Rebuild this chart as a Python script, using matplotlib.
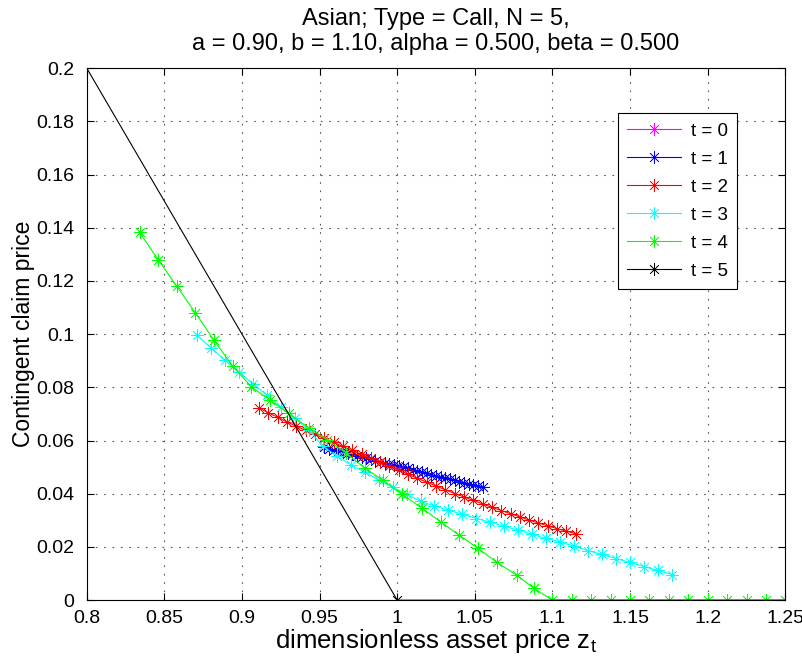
import matplotlib
matplotlib.use("Agg")
from matplotlib import pyplot as plt

plt.rcParams['font.family'] = ['Liberation Sans', 'DejaVu Sans']
plt.rcParams['mathtext.default'] = 'regular'

# t = 0 (single node, hidden under t = 1)
z0 = [1.000]
v0 = [0.0503]

# t = 1
z1 = [0.953, 0.956, 0.959, 0.962, 0.965, 0.968, 0.971, 0.974, 0.977, 0.980,
      0.983, 0.986, 0.989, 0.992, 0.995, 0.998, 1.001, 1.004, 1.007, 1.010,
      1.013, 1.016, 1.019, 1.022, 1.025, 1.028, 1.031, 1.034, 1.037, 1.040,
      1.043, 1.046, 1.049, 1.052, 1.055]
v1 = [0.0574, 0.0570, 0.0565, 0.0561, 0.0556, 0.0552, 0.0548, 0.0543, 0.0539, 0.0534,
      0.0530, 0.0525, 0.0521, 0.0517, 0.0512, 0.0508, 0.0503, 0.0499, 0.0495, 0.0490,
      0.0486, 0.0481, 0.0477, 0.0472, 0.0468, 0.0464, 0.0459, 0.0455, 0.0450, 0.0446,
      0.0442, 0.0437, 0.0433, 0.0428, 0.0424]

# t = 2
z2 = [0.911, 0.917, 0.923, 0.929, 0.935, 0.941, 0.947, 0.953, 0.959, 0.965,
      0.971, 0.977, 0.983, 0.989, 0.995, 1.001, 1.007, 1.013, 1.019, 1.025,
      1.031, 1.037, 1.043, 1.049, 1.055, 1.061, 1.067, 1.073, 1.079, 1.085,
      1.091, 1.097, 1.103, 1.109, 1.115]
v2 = [0.0723, 0.0704, 0.0688, 0.0670, 0.0654, 0.0638, 0.0623, 0.0608, 0.0593, 0.0578,
      0.0563, 0.0548, 0.0533, 0.0518, 0.0503, 0.0488, 0.0473, 0.0458, 0.0444, 0.0429,
      0.0415, 0.0401, 0.0388, 0.0375, 0.0362, 0.0349, 0.0337, 0.0325, 0.0313, 0.0301,
      0.0290, 0.0279, 0.0269, 0.0259, 0.0250]

# t = 3
z3 = [0.871, 0.880, 0.889, 0.898, 0.907, 0.916, 0.925, 0.934, 0.943, 0.952,
      0.961, 0.970, 0.979, 0.988, 0.997, 1.006, 1.015, 1.024, 1.033, 1.042,
      1.051, 1.060, 1.069, 1.078, 1.087, 1.096, 1.105, 1.114, 1.123, 1.132,
      1.141, 1.150, 1.159, 1.168, 1.177]
v3 = [0.0996, 0.0949, 0.0902, 0.0858, 0.0814, 0.0771, 0.0726, 0.0683, 0.0640, 0.0580,
      0.0541, 0.0510, 0.0482, 0.0452, 0.0425, 0.0398, 0.0372, 0.0354, 0.0338, 0.0323,
      0.0307, 0.0293, 0.0278, 0.0263, 0.0247, 0.0232, 0.0219, 0.0203, 0.0186, 0.0172,
      0.0156, 0.0142, 0.0126, 0.0112, 0.0096]

# t = 4
z4 = [0.834, 0.846, 0.858, 0.870, 0.882, 0.894, 0.906, 0.918, 0.930, 0.943,
      0.955, 0.967, 0.979, 0.991, 1.003, 1.016, 1.028, 1.040, 1.052, 1.064,
      1.077, 1.088, 1.100, 1.1125, 1.125, 1.1375, 1.150, 1.1625, 1.175, 1.1875,
      1.200, 1.2125, 1.225, 1.2375, 1.250]
v4 = [0.1383, 0.1280, 0.1180, 0.1080, 0.0977, 0.0880, 0.0802, 0.0752, 0.0702, 0.0648,
      0.0602, 0.0554, 0.0497, 0.0450, 0.0398, 0.0346, 0.0294, 0.0244, 0.0195, 0.0143,
      0.0094, 0.0045, 0.0, 0.0, 0.0, 0.0, 0.0, 0.0, 0.0, 0.0,
      0.0, 0.0, 0.0, 0.0, 0.0]

# t = 5 (payoff)
z5 = [0.6, 1.0, 1.4]
v5 = [0.4, 0.0, 0.0]

series = [(z0, v0, 'magenta', 't = 0'),
          (z1, v1, 'blue', 't = 1'),
          (z2, v2, 'red', 't = 2'),
          (z3, v3, 'cyan', 't = 3'),
          (z4, v4, 'lime', 't = 4'),
          (z5, v5, 'black', 't = 5')]

fig = plt.figure(figsize=(8.03, 6.61), dpi=100)
ax = fig.add_axes([0.108, 0.092, 0.870, 0.805])

star = (8, 2, 0)
for z, v, c, lab in series:
    ax.plot(z, v, color=c, marker=star, markersize=9, linewidth=0.8,
            markeredgewidth=0.5, label=lab)

ax.set_xlim(0.8, 1.25)
ax.set_ylim(0, 0.2)
ax.set_xticks([0.8, 0.85, 0.9, 0.95, 1.0, 1.05, 1.1, 1.15, 1.2, 1.25])
ax.set_xticklabels(['0.8', '0.85', '0.9', '0.95', '1', '1.05', '1.1', '1.15', '1.2', '1.25'])
ax.set_yticks([0, 0.02, 0.04, 0.06, 0.08, 0.1, 0.12, 0.14, 0.16, 0.18, 0.2])
ax.set_yticklabels(['0', '0.02', '0.04', '0.06', '0.08', '0.1', '0.12', '0.14', '0.16', '0.18', '0.2'])
ax.tick_params(direction='in', top=True, right=True, labelsize=14, length=5, width=0.8)
ax.tick_params(axis='x', pad=7)
ax.tick_params(axis='y', pad=9)
ax.grid(True, linestyle=(0, (1.5, 6)), color='#555555', linewidth=0.8)
for s in ax.spines.values():
    s.set_linewidth(0.8)

ax.set_xlabel(r'dimensionless asset price z$_{t}$', fontsize=18.5, labelpad=0)
ax.set_ylabel('Contingent claim price', fontsize=16.5, labelpad=1)
ax.set_title('Asian; Type = Call, N = 5,\na = 0.90, b = 1.10, alpha = 0.500, beta = 0.500',
             fontsize=17, linespacing=1.2, pad=13)

leg = ax.legend(loc='upper right', bbox_to_anchor=(0.931, 0.915), borderaxespad=0,
                fontsize=13.5, fancybox=False, edgecolor='black', framealpha=1,
                borderpad=0.5, handlelength=2.9, labelspacing=0.58, handletextpad=0.5)
leg.get_frame().set_linewidth(0.8)

fig.savefig('out.png', dpi=100)
